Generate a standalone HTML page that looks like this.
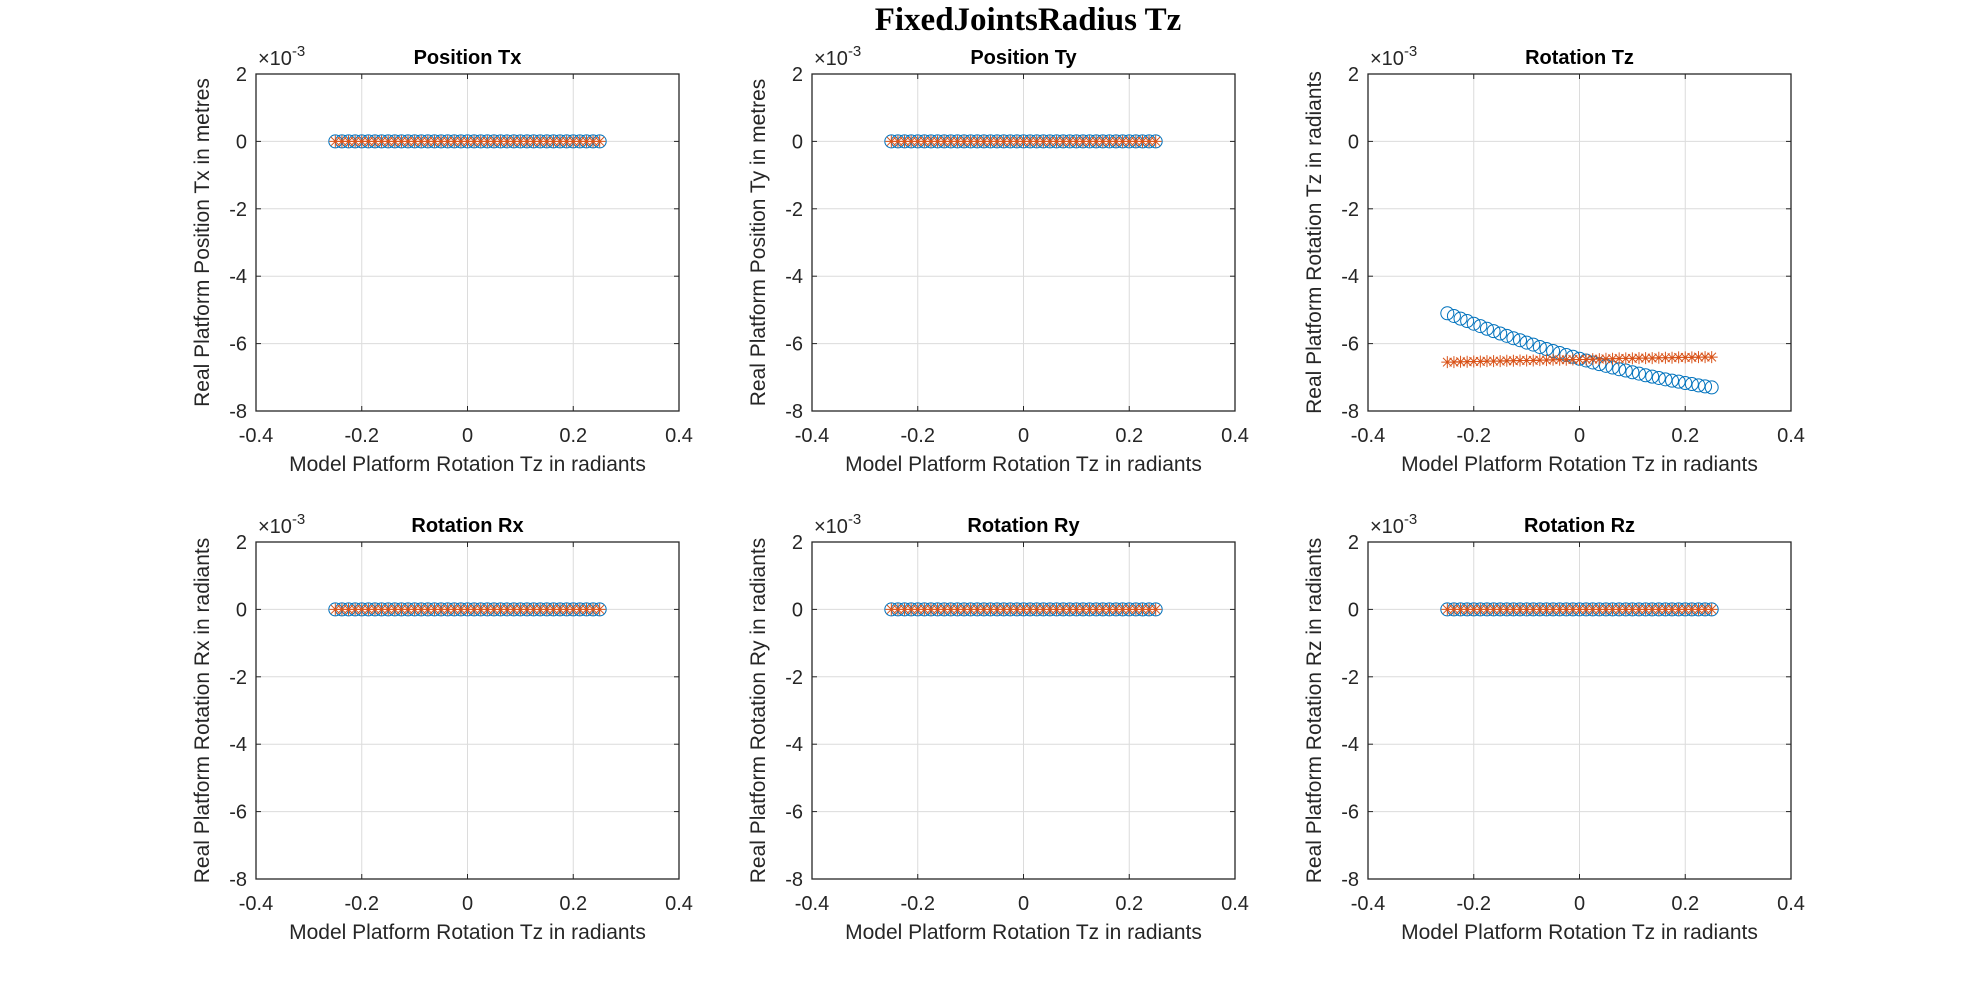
<!DOCTYPE html>
<html><head><meta charset="utf-8">
<style>
html,body{margin:0;padding:0;background:#fff;}
svg{display:block;}
text{font-family:"Liberation Sans",Arial,sans-serif;}
</style></head>
<body>
<svg id="fig" width="1977" height="989" viewBox="0 0 1977 989" xmlns="http://www.w3.org/2000/svg">
<text x="1028" y="30" text-anchor="middle" font-size="33" font-weight="bold" style="font-family:'Liberation Serif',serif">FixedJointsRadius Tz</text>
</svg>
<script>
const xValues=[-0.25,-0.2375,-0.225,-0.2125,-0.2,-0.1875,-0.175,-0.1625,-0.15,-0.1375,-0.125,-0.1125,-0.1,-0.0875,-0.075,-0.0625,-0.05,-0.0375,-0.025,-0.0125,0,0.0125,0.025,0.0375,0.05,0.0625,0.075,0.0875,0.1,0.1125,0.125,0.1375,0.15,0.1625,0.175,0.1875,0.2,0.2125,0.225,0.2375,0.25];
const zeroValues=[0,0,0,0,0,0,0,0,0,0,0,0,0,0,0,0,0,0,0,0,0,0,0,0,0,0,0,0,0,0,0,0,0,0,0,0,0,0,0,0,0];
const tzModel=[-5.10,-5.18,-5.26,-5.33,-5.41,-5.48,-5.56,-5.63,-5.70,-5.77,-5.84,-5.90,-5.97,-6.03,-6.10,-6.16,-6.22,-6.28,-6.34,-6.39,-6.45,-6.50,-6.56,-6.61,-6.66,-6.71,-6.76,-6.80,-6.85,-6.89,-6.94,-6.98,-7.02,-7.06,-7.10,-7.13,-7.17,-7.20,-7.24,-7.27,-7.30];
const tzReal=[-6.55,-6.55,-6.54,-6.54,-6.53,-6.53,-6.52,-6.52,-6.52,-6.51,-6.51,-6.50,-6.50,-6.50,-6.49,-6.49,-6.48,-6.48,-6.48,-6.47,-6.47,-6.47,-6.46,-6.46,-6.45,-6.45,-6.44,-6.44,-6.44,-6.43,-6.43,-6.43,-6.42,-6.42,-6.42,-6.41,-6.41,-6.41,-6.40,-6.40,-6.40];
const xTicks=[-0.4,-0.2,0,0.2,0.4];
const xTickLabels=["-0.4","-0.2","0","0.2","0.4"];
const yTicks=[2,0,-2,-4,-6,-8];
const yTickLabels=["2","0","-2","-4","-6","-8"];
const panelTitles=["Position Tx","Position Ty","Rotation Tz","Rotation Rx","Rotation Ry","Rotation Rz"];
const panelYLabels=["Real Platform Position Tx in metres","Real Platform Position Ty in metres","Real Platform Rotation Tz in radiants","Real Platform Rotation Rx in radiants","Real Platform Rotation Ry in radiants","Real Platform Rotation Rz in radiants"];

const NS="http://www.w3.org/2000/svg";
const svg=document.getElementById('fig');
const lefts=[256,812,1368], tops=[74,542], W=423, H=337;
function mk(tag,attrs,parent){const e=document.createElementNS(NS,tag);for(const k in attrs)e.setAttribute(k,attrs[k]);(parent||svg).appendChild(e);return e;}

for(let p=0;p<6;p++){
  const L=lefts[p%3],T=tops[Math.floor(p/3)];
  const g=mk('g',{});
  
  
  const sx=v=>L+(v+0.4)/0.8*W;
  const sy=v=>T+(2-v)/10*H;
  mk('rect',{x:L,y:T,width:W,height:H,fill:'#fff'},g);
  xTicks.forEach(t=>{const l=mk('line',{x1:sx(t),x2:sx(t),y1:T,y2:T+H,stroke:'#dcdcdc','stroke-width':1},g);
    });
  yTicks.forEach(t=>{const l=mk('line',{x1:L,x2:L+W,y1:sy(t),y2:sy(t),stroke:'#dcdcdc','stroke-width':1},g);
    });
  xTicks.forEach((t,i)=>{
    mk('line',{x1:sx(t),x2:sx(t),y1:T+H,y2:T+H-5,stroke:'#262626'},g);
    mk('line',{x1:sx(t),x2:sx(t),y1:T,y2:T+5,stroke:'#262626'},g);
    const tx=mk('text',{x:sx(t),y:T+H+31,'text-anchor':'middle','font-size':20,fill:'#262626'},g);
    tx.textContent=xTickLabels[i];
    
  });
  yTicks.forEach((t,i)=>{
    mk('line',{x1:L,x2:L+5,y1:sy(t),y2:sy(t),stroke:'#262626'},g);
    mk('line',{x1:L+W,x2:L+W-5,y1:sy(t),y2:sy(t),stroke:'#262626'},g);
    const tx=mk('text',{x:L-9,y:sy(t)+7,'text-anchor':'end','font-size':20,fill:'#262626'},g);
    tx.textContent=yTickLabels[i];
    
  });
  const fr=mk('rect',{x:L,y:T,width:W,height:H,fill:'none',stroke:'#262626','stroke-width':1.3},g);
  
  const ex=mk('text',{x:L+2,y:T-9,'font-size':20,fill:'#262626'},g);
  ex.innerHTML='×10<tspan dy="-9" font-size="15">-3</tspan>';
  
  const ti=mk('text',{x:L+W/2,y:T-10,'text-anchor':'middle','font-size':20,'font-weight':'bold',fill:'#000'},g);
  ti.textContent=panelTitles[p];
  
  const xl=mk('text',{x:L+W/2,y:T+H+60,'text-anchor':'middle','font-size':21,fill:'#262626'},g);
  xl.textContent='Model Platform Rotation Tz in radiants';
  
  const yl=mk('text',{x:0,y:0,'text-anchor':'middle','font-size':21,fill:'#262626',transform:`translate(${L-47},${T+H/2}) rotate(-90)`},g);
  yl.textContent=panelYLabels[p];
  
  const blue=p===2?tzModel:zeroValues, red=p===2?tzReal:zeroValues;
  xValues.forEach((x,i)=>{
    const c=mk('circle',{cx:sx(x),cy:sy(blue[i]),r:6.5,fill:'none',stroke:'#0072bd','stroke-width':1},g);
    
    
  });
  xValues.forEach((x,i)=>{
    const cx=sx(x),cy=sy(red[i]),s=6;
    const a=mk('path',{d:`M${cx-s},${cy}H${cx+s}M${cx},${cy-s}V${cy+s}M${cx-4.3},${cy-4.3}L${cx+4.3},${cy+4.3}M${cx-4.3},${cy+4.3}L${cx+4.3},${cy-4.3}`,stroke:'#d95319','stroke-width':1,fill:'none'},g);
    
    
  });
}
</script>
</body></html>
